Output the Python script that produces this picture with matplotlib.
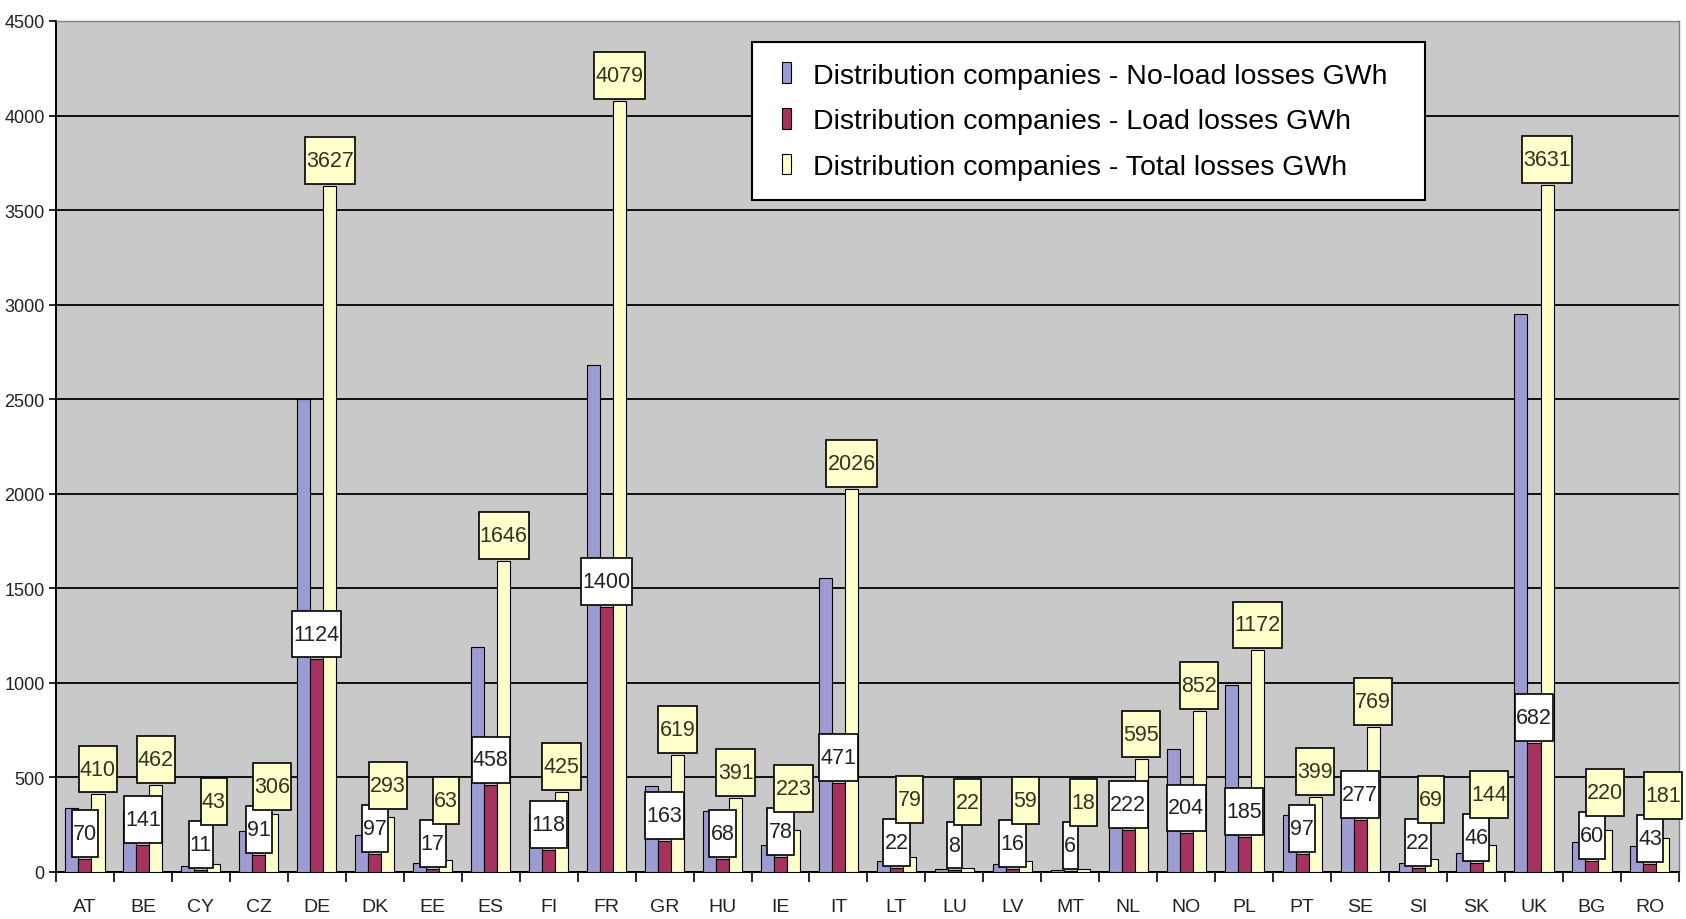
import numpy as np
import matplotlib
matplotlib.use("Agg")
import matplotlib.pyplot as plt
from matplotlib.path import Path
from matplotlib.patches import Rectangle
from matplotlib.container import BarContainer
from matplotlib.legend_handler import HandlerPatch, update_from_first_child

countries = ["AT", "BE", "CY", "CZ", "DE", "DK", "EE", "ES", "FI", "FR", "GR", "HU", "IE", "IT",
             "LT", "LU", "LV", "MT", "NL", "NO", "PL", "PT", "SE", "SI", "SK", "UK", "BG", "RO"]
no_load = [340, 321, 32, 215, 2503, 196, 46, 1188, 307, 2679, 456, 323, 145, 1555,
           57, 14, 43, 12, 373, 648, 987, 302, 492, 47, 98, 2949, 160, 138]
load = [70, 141, 11, 91, 1124, 97, 17, 458, 118, 1400, 163, 68, 78, 471,
        22, 8, 16, 6, 222, 204, 185, 97, 277, 22, 46, 682, 60, 43]
total = [410, 462, 43, 306, 3627, 293, 63, 1646, 425, 4079, 619, 391, 223, 2026,
         79, 22, 59, 18, 595, 852, 1172, 399, 769, 69, 144, 3631, 220, 181]

series_names = ["Distribution companies - No-load losses GWh",
                "Distribution companies - Load losses GWh",
                "Distribution companies - Total losses GWh"]

BLUE = "#9C9CD2"
MAROON = "#A8325F"
CREAM = "#FFFFCC"
FONT = ["Liberation Sans Narrow", "Liberation Sans", "DejaVu Sans"]
LABEL_SIZE = 15.5
PAD_X = 0.06
PAD_Y = 0.6


def label_box(x0, y0, width, height, mutation_size):
    # plain rectangle with tall padding
    px = PAD_X * mutation_size
    py = PAD_Y * mutation_size
    return Path([(x0 - px, y0 - py), (x0 + width + px, y0 - py),
                 (x0 + width + px, y0 + height + py), (x0 - px, y0 + height + py),
                 (x0 - px, y0 - py)], closed=True)


def small_square(legend, orig_handle, xdescent, ydescent, width, height, fontsize):
    # narrow swatch pushed to the right end of the handle area
    sw = 0.34 * fontsize
    return Rectangle((-xdescent + width - sw, -ydescent), sw, height)


fig = plt.figure(figsize=(16.86, 9.2), dpi=100)
ax = fig.add_axes([0.0332, 0.0511, 0.9626, 0.925])
ax.set_facecolor("#C9C9C9")

x = np.arange(len(countries))
w = 0.225
ax.bar(x - w, no_load, w, color=BLUE, edgecolor="black", linewidth=0.8, label=series_names[0], zorder=3)
ax.bar(x, load, w, color=MAROON, edgecolor="black", linewidth=0.8, label=series_names[1], zorder=3)
ax.bar(x + w, total, w, color=CREAM, edgecolor="black", linewidth=0.8, label=series_names[2], zorder=3)

ax.set_xlim(-0.5, len(countries) - 0.5)
ax.set_ylim(0, 4500)

# pixel geometry for label placement
ppu = (ax.transData.transform((0, 4500))[1] - ax.transData.transform((0, 0))[1]) / 4500
size_px = LABEL_SIZE * fig.dpi / 72
pad_px = PAD_Y * size_px
box_h = 46
gap = 2

for xi, lv, tv in zip(x, load, total):
    ax.annotate(str(lv), (xi, lv), xytext=(0, gap + pad_px), textcoords="offset pixels",
                ha="center", va="bottom", fontsize=LABEL_SIZE, family=FONT, color="#222222",
                bbox=dict(boxstyle=label_box, fc="white", ec="black", lw=1.2), zorder=5)
    # push the total label up when it would sit on top of the load label
    load_top = lv * ppu + gap + box_h
    bottom = max(tv * ppu + gap, load_top - 3)
    ax.annotate(str(tv), (xi + w, tv), xytext=(0, bottom - tv * ppu + pad_px),
                textcoords="offset pixels", ha="center", va="bottom",
                fontsize=LABEL_SIZE, family=FONT, color="#333322",
                bbox=dict(boxstyle=label_box, fc=CREAM, ec="black", lw=1.2), zorder=6)

ax.set_yticks(np.arange(0, 4501, 500))
ax.yaxis.grid(True, color="black", linewidth=1.3, zorder=1)
ax.set_axisbelow(True)

# tick marks between categories, names centred under each group
ax.set_xticks(np.arange(-0.5, len(countries), 1.0))
ax.set_xticklabels([])
ax.set_xticks(x, minor=True)
ax.set_xticklabels(countries, minor=True)
ax.tick_params(axis="x", which="major", direction="out", length=7, width=1.2)
ax.tick_params(axis="x", which="minor", length=0, pad=19)
ax.tick_params(axis="y", direction="out", length=5, width=1.2, pad=3)
for lab in ax.get_xticklabels(minor=True):
    lab.set_family(FONT)
    lab.set_fontsize(14)
    lab.set_color("#222222")
for lab in ax.get_yticklabels():
    lab.set_family(FONT)
    lab.set_fontsize(13)
    lab.set_color("#222222")

for side in ["left", "bottom"]:
    ax.spines[side].set_linewidth(1.4)
    ax.spines[side].set_color("black")
for side in ["top", "right"]:
    ax.spines[side].set_linewidth(1.0)
    ax.spines[side].set_color("#808080")

bar_handler = HandlerPatch(patch_func=small_square, update_func=update_from_first_child)
leg = ax.legend(loc="upper left", bbox_to_anchor=(0.4288, 0.794, 0.4147, 0.181), mode="expand",
                borderaxespad=0, prop={"family": ["Liberation Sans", "DejaVu Sans"], "size": 20.5},
                fancybox=False, frameon=True, edgecolor="black", framealpha=1,
                handlelength=0.68, handleheight=0.75, handletextpad=0.75,
                labelspacing=0.68, borderpad=0.7,
                handler_map={BarContainer: bar_handler})
leg.get_frame().set_linewidth(1.5)
leg.set_zorder(10)

fig.savefig("out.png", dpi=100, facecolor="white")
